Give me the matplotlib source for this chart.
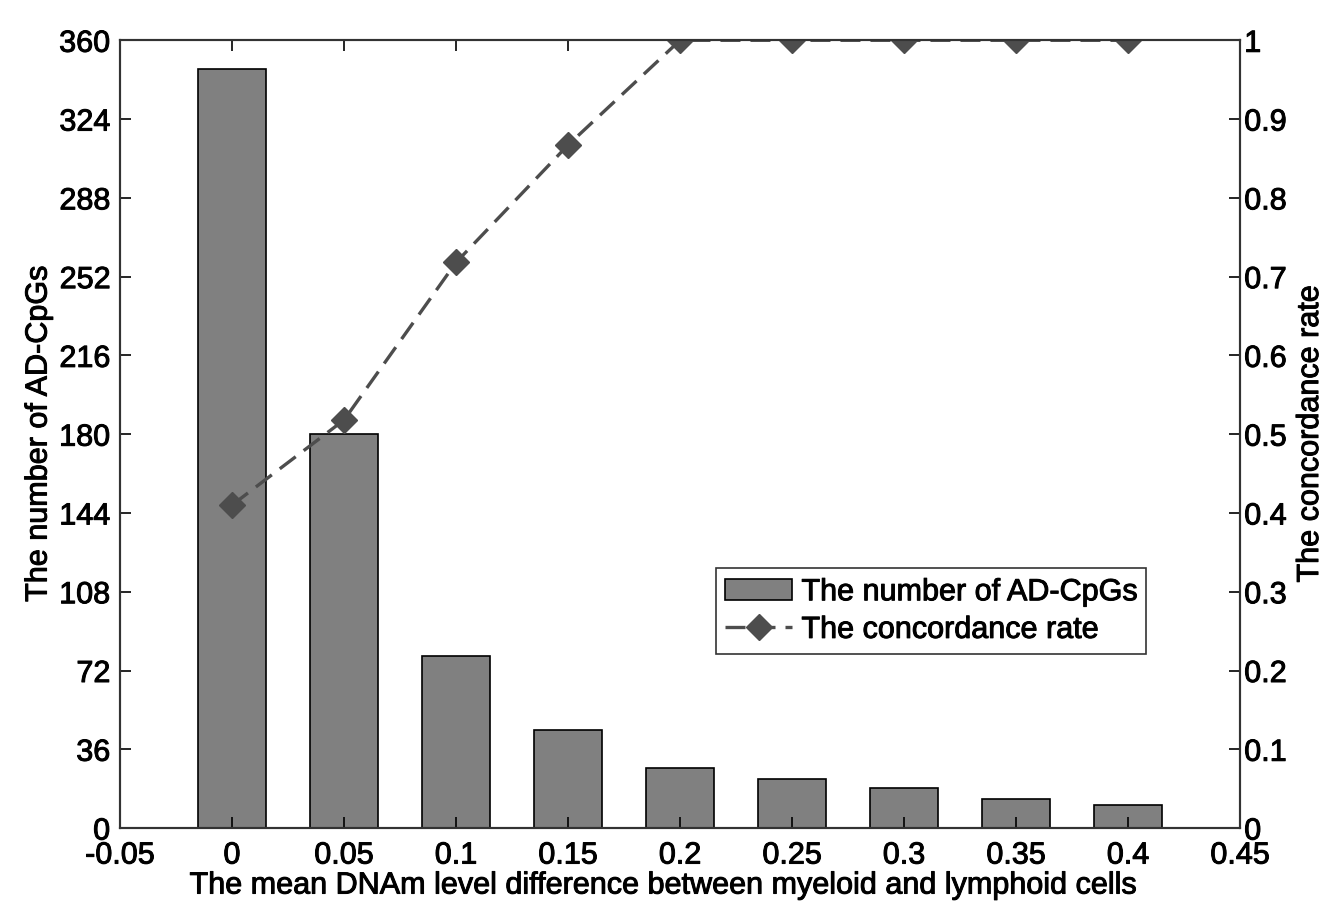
import numpy as np
import matplotlib
matplotlib.use("Agg")
import matplotlib.pyplot as plt
import matplotlib.patheffects as pe

plt.rcParams['font.family'] = ['Liberation Sans', 'DejaVu Sans']
# leicht verdickte Schrift wie im Original
fett = [pe.withStroke(linewidth=0.7, foreground="black")]

# Daten
diff_levels = [0, 0.05, 0.1, 0.15, 0.2, 0.25, 0.3, 0.35, 0.4]
n_cpgs = [347, 180, 78.5, 45, 27.5, 22.5, 18.5, 13.5, 10.5]
concordance = [0.41, 0.518, 0.718, 0.867, 1, 1, 1, 1, 1]

fig = plt.figure(figsize=(13.23, 9.16), dpi=100)
ax = fig.add_axes([0.0907, 0.096, 0.8466, 0.86])

bars = ax.bar(diff_levels, n_cpgs, width=0.03, color="#808080",
              edgecolor="black", linewidth=1.2, label="The number of AD-CpGs")
ax.set_xlim(-0.05, 0.45)
ax.set_ylim(0, 360)
ax.set_xticks(np.arange(-0.05, 0.451, 0.05))
ax.set_xticklabels(["-0.05", "0", "0.05", "0.1", "0.15", "0.2", "0.25",
                    "0.3", "0.35", "0.4", "0.45"])
ax.set_yticks(np.arange(0, 361, 36))
ax.tick_params(direction="in", length=8, width=1.2, labelsize=22,
               top=True, right=False, colors="black", pad=7)
ax.tick_params(axis="x", pad=9)
for s in ax.spines.values():
    s.set_linewidth(1.5)
    s.set_color("#333333")
ax.set_xlabel("The mean DNAm level difference between myeloid and lymphoid cells",
              fontsize=22, labelpad=0, x=0.483)
ax.set_ylabel("The number of AD-CpGs", fontsize=22, labelpad=4)

ax2 = ax.twinx()
line, = ax2.plot(diff_levels, concordance, color="#4d4d4d", linestyle="--",
                 linewidth=2.4, dashes=(6, 3), marker="D", markersize=13,
                 markerfacecolor="#4d4d4d", markeredgecolor="#4d4d4d",
                 label="The concordance rate")
ax2.set_ylim(0, 1)
ax2.set_yticks(np.arange(0, 1.01, 0.1))
ax2.set_yticklabels(["0", "0.1", "0.2", "0.3", "0.4", "0.5", "0.6", "0.7",
                     "0.8", "0.9", "1"])
ax2.tick_params(direction="in", length=8, width=1.2, labelsize=22, pad=3)
for s in ax2.spines.values():
    s.set_linewidth(1.5)
    s.set_color("#333333")
ax2.set_ylabel("The concordance rate", fontsize=22, labelpad=6)

leg = ax2.legend([bars, line], ["The number of AD-CpGs", "The concordance rate"],
                 loc="upper right", bbox_to_anchor=(0.916, 0.33), fontsize=22,
                 frameon=True, fancybox=False, edgecolor="black",
                 handlelength=2.2, handletextpad=0.3, borderpad=0.3,
                 labelspacing=0.25, borderaxespad=0)
leg.get_frame().set_linewidth(1.2)

texte = (ax.get_xticklabels() + ax.get_yticklabels() + ax2.get_yticklabels()
         + [ax.xaxis.label, ax.yaxis.label, ax2.yaxis.label] + leg.get_texts())
for t in texte:
    t.set_path_effects(fett)

fig.savefig("out.png", dpi=100)
